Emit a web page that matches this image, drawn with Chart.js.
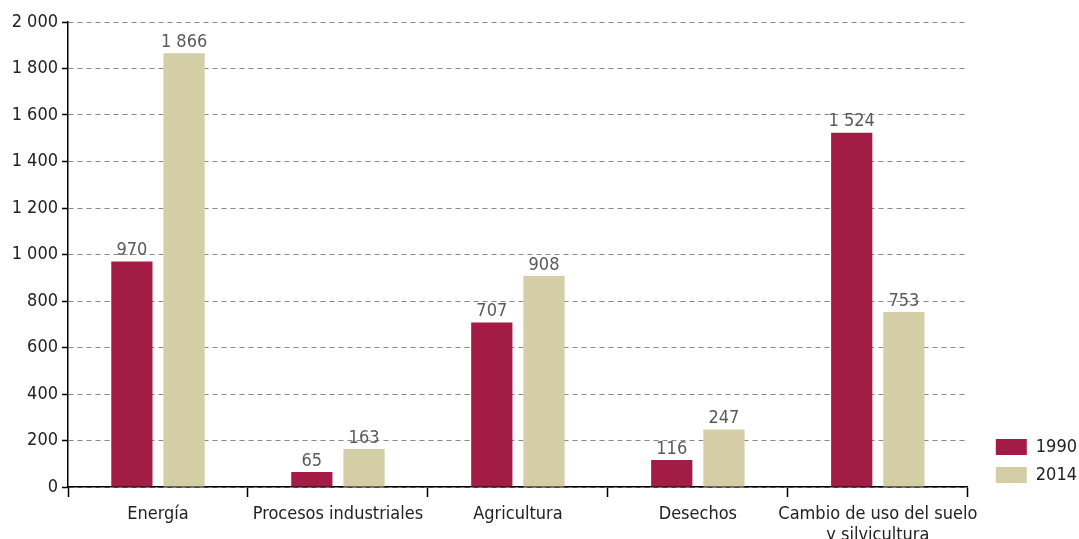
<!DOCTYPE html>
<html>
<head>
<meta charset="utf-8">
<script src="https://cdn.jsdelivr.net/npm/chart.js@4/dist/chart.umd.min.js"></script>
<style>
    html, body { margin: 0; padding: 0; background: #fff; }
    #wrap { width: 1079px; height: 539px; }
</style>
</head>
<body>
<div id="wrap"><canvas id="chart"></canvas></div>
<script>
const categories = ['Energía', 'Procesos industriales', 'Agricultura', 'Desechos', ['Cambio de uso del suelo', 'y silvicultura']];
const values1990 = [970, 65, 707, 116, 1524];
const values2014 = [1866, 163, 908, 247, 753];
const seriesLabels = ['1990', '2014'];
const yTicks = [0, 200, 400, 600, 800, 1000, 1200, 1400, 1600, 1800, 2000];

const FONT = '"Liberation Sans Narrow", "DejaVu Sans Condensed", sans-serif';

function fmt(v) {
    return String(v).replace(/\B(?=(\d{3})+(?!\d))/g, ' ');
}

// etiquetas encima de las barras
const valueLabels = {
    id: 'valueLabels',
    afterDatasetsDraw(chart) {
        const ctx = chart.ctx;
        ctx.save();
        ctx.font = '18px ' + FONT;
        ctx.fillStyle = '#5a5a5a';
        ctx.textAlign = 'center';
        ctx.textBaseline = 'bottom';
        chart.data.datasets.forEach((ds, i) => {
            chart.getDatasetMeta(i).data.forEach((bar, j) => {
                ctx.fillText(fmt(ds.data[j]), bar.x, bar.y - 2);
            });
        });
        ctx.restore();
    }
};

// separar la leyenda del área del gráfico
const legendShift = {
    id: 'legendShift',
    afterLayout(chart) {
        if (chart.legend) {
            chart.legend.left += 18;
            chart.legend.right += 18;
            chart.legend.top += 7;
            chart.legend.bottom += 7;
        }
    }
};

new Chart(document.getElementById('chart'), {
    type: 'bar',
    data: {
        labels: categories,
        datasets: [{
            label: seriesLabels[0],
            data: values1990,
            backgroundColor: '#a31c45',
            categoryPercentage: 0.58,
            barPercentage: 0.79
        }, {
            label: seriesLabels[1],
            data: values2014,
            backgroundColor: '#d3cea5',
            categoryPercentage: 0.58,
            barPercentage: 0.79
        }]
    },
    options: {
        responsive: true,
        maintainAspectRatio: false,
        animation: false,
        layout: {padding: {top: 22, left: 0, right: 10, bottom: 0}},
        plugins: {
            tooltip: {enabled: false},
            legend: {
                position: 'right',
                align: 'end',
                fullSize: false,
                labels: {
                    boxWidth: 31,
                    boxHeight: 16,
                    padding: 10,
                    color: '#222',
                    font: {family: FONT, size: 18}
                }
            }
        },
        scales: {
            x: {
                afterFit: scale => {
                    scale.height = 52;
                },
                grid: {
                    offset: true,
                    drawOnChartArea: false,
                    drawTicks: true,
                    tickLength: 10,
                    tickColor: '#000',
                    tickWidth: 1.5
                },
                border: {color: '#000', width: 1.5},
                ticks: {
                    color: '#222',
                    padding: 7,
                    maxRotation: 0,
                    autoSkip: false,
                    font: {family: FONT, size: 18, lineHeight: 1.15}
                }
            },
            y: {
                min: 0,
                max: 2000,
                afterBuildTicks: scale => {
                    scale.ticks = yTicks.map(v => ({value: v}));
                },
                afterFit: scale => {
                    scale.width = 68;
                },
                grid: {
                    color: '#888',
                    lineWidth: 1,
                    drawTicks: true,
                    tickLength: 6,
                    tickColor: '#000',
                    tickWidth: 1.5,
                    tickBorderDash: []
                },
                border: {color: '#000', width: 1.5, dash: [5, 4]},
                ticks: {
                    color: '#222',
                    padding: 4,
                    font: {family: FONT, size: 18},
                    callback: v => fmt(v)
                }
            }
        }
    },
    plugins: [valueLabels, legendShift]
});
</script>
</body>
</html>
